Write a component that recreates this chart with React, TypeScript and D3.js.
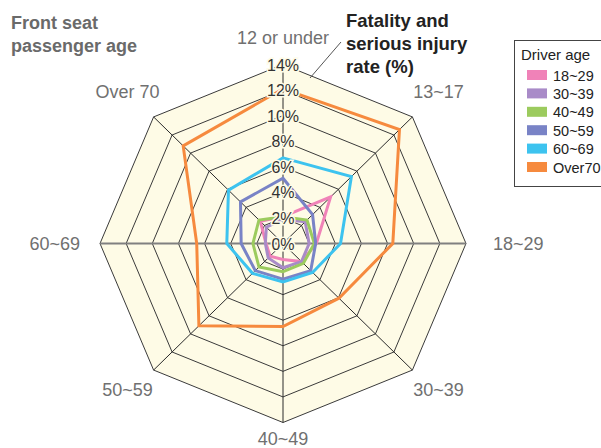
import React from "react";
import * as d3 from "d3";

// Front seat passenger age groups (clockwise from top)
const categories = ["12 or under", "13~17", "18~29", "30~39", "40~49", "50~59", "60~69", "Over 70"];
// Driver age groups
const driverAges = ["18~29", "30~39", "40~49", "50~59", "60~69", "Over70"];
const seriesColors = ["#F082B8", "#A98BC8", "#9CCB5E", "#7983C6", "#3DC3EF", "#F68A3E"];

// Fatality and serious injury rate (%) per passenger age group
const driver18to29 = [2.1, 5.15, 2.55, 2.0, 1.25, 1.4, 1.3, 2.45];
const driver30to39 = [1.9, 2.4, 2.0, 2.0, 1.9, 1.6, 1.35, 1.8];
const driver40to49 = [2.1, 2.6, 2.4, 2.2, 2.2, 2.6, 2.3, 2.6];
const driver50to59 = [5.1, 3.2, 2.5, 3.0, 2.8, 3.0, 3.2, 4.6];
const driver60to69 = [6.7, 7.4, 4.4, 3.2, 3.0, 3.3, 4.3, 5.9];
const driverOver70 = [12.1, 12.6, 8.4, 6.05, 6.5, 9.1, 6.6, 10.8];

const tickValues = [0, 2, 4, 6, 8, 10, 12, 14];

const W = 601;
const H = 448;
const cx = 283;
const cy = 243.5;
const rX = d3.scaleLinear().domain([0, 14]).range([0, 183]);
const rY = d3.scaleLinear().domain([0, 14]).range([0, 179]);
const angle = d3.scaleLinear().domain([0, categories.length]).range([0, 2 * Math.PI]);

const pt = (i: number, v: number): [number, number] => {
  const a = angle(i);
  return [cx + rX(v) * Math.sin(a), cy - rY(v) * Math.cos(a)];
};

const FONT = "'Liberation Sans', Arial, Helvetica, sans-serif";
const CREAM = "#FEFBE6";

export default function App() {
  const series = [driver18to29, driver30to39, driver40to49, driver50to59, driver60to69, driverOver70];
  const closedLine = d3.line<[number, number]>().curve(d3.curveLinearClosed);

  const ring = (v: number) => closedLine(categories.map((_, i) => pt(i, v))) || "";
  const rings = tickValues.filter((t) => t > 0);

  // category label placement around the outer ring
  const labelPos = (i: number) => {
    const a = angle(i);
    const s = Math.sin(a);
    const c = Math.cos(a);
    const [vx, vy] = pt(i, 14);
    if (Math.abs(s) < 0.1) {
      return { x: vx, y: c > 0 ? vy - 21 : vy + 22, anchor: "middle" };
    }
    if (Math.abs(c) < 0.1) {
      return { x: vx + (s > 0 ? 27 : -20), y: vy + 6, anchor: s > 0 ? "start" : "end" };
    }
    return { x: vx + s * 37, y: vy - c * 28 + (c > 0 ? 1 : 6), anchor: "middle" };
  };

  return (
    <svg width={W} height={H} style={{ position: "absolute", left: 0, top: 0 }} fontFamily={FONT}>
      <rect width={W} height={H} fill="#fff" />
      {/* grid */}
      <path d={ring(14)} fill={CREAM} stroke="none" />
      {rings.map((t) => (
        <path key={t} d={ring(t)} fill="none" stroke="#3a3a3a" strokeWidth={1} />
      ))}
      {categories.map((_, i) => {
        const [x, y] = pt(i, 14);
        const horiz = i === 2 || i === 6;
        return horiz ? null : (
          <line key={i} x1={cx} y1={cy} x2={x} y2={y} stroke="#2a2a2a" strokeWidth={1} />
        );
      })}
      <line x1={pt(6, 14)[0]} y1={cy} x2={pt(2, 14)[0]} y2={cy} stroke="#808080" strokeWidth={2} />

      {/* series */}
      {series.map((vals, si) => (
        <path
          key={si}
          d={closedLine(vals.map((v, i) => pt(i, v))) || ""}
          fill="none"
          stroke={seriesColors[si]}
          strokeWidth={3}
          strokeLinejoin="miter"
        />
      ))}

      {/* radial tick labels */}
      {tickValues.map((t) => (
        <text
          key={t}
          x={cx}
          y={cy - rY(t) + 6}
          textAnchor="middle"
          fontSize={16}
          fill="#333"
          stroke={CREAM}
          strokeWidth={3}
          paintOrder="stroke"
        >
          {t}%
        </text>
      ))}

      {/* category labels */}
      {categories.map((c, i) => {
        const p = labelPos(i);
        return (
          <text key={c} x={p.x} y={p.y} textAnchor={p.anchor as any} fontSize={18} fill="#707070">
            {c}
          </text>
        );
      })}

      {/* titles */}
      <text x={11} y={29} fontSize={18} fontWeight="bold" fill="#6a6a6a">
        <tspan x={11}>Front seat</tspan>
        <tspan x={11} dy={23}>passenger age</tspan>
      </text>
      <text x={346} y={27} fontSize={18.5} fontWeight="bold" fill="#222">
        <tspan x={346}>Fatality and</tspan>
        <tspan x={346} dy={23}>serious injury</tspan>
        <tspan x={346} dy={23}>rate (%)</tspan>
      </text>
      <line x1={341} y1={42} x2={310} y2={78} stroke="#555" strokeWidth={1} />

      {/* legend */}
      <g>
        <rect x={514.5} y={40.5} width={100} height={146} fill="#fff" stroke="#444" strokeWidth={1} />
        <text x={521} y={60} fontSize={15} fill="#222">Driver age</text>
        {driverAges.map((d, i) => (
          <g key={d} transform={`translate(527, ${75 + i * 18.4})`}>
            <rect x={0} y={-5} width={20} height={10} fill={seriesColors[i]} />
            <text x={26} y={5.5} fontSize={14.5} fill="#222">{d}</text>
          </g>
        ))}
      </g>
    </svg>
  );
}
